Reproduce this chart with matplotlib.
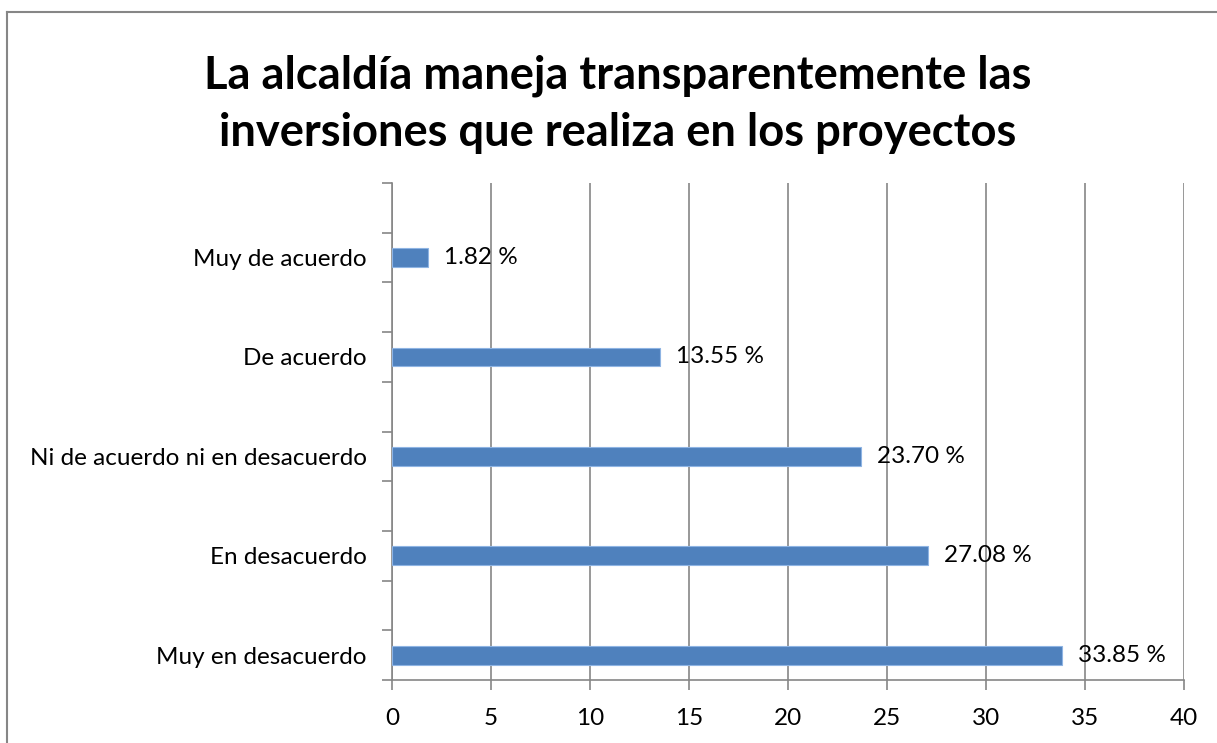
import numpy as np
import matplotlib
matplotlib.use('Agg')
import matplotlib.pyplot as plt
from matplotlib.lines import Line2D

# Data (bottom to top)
categories = ['Muy en desacuerdo', 'En desacuerdo', 'Ni de acuerdo ni en desacuerdo',
              'De acuerdo', 'Muy de acuerdo']
values = [33.85, 27.08, 23.70, 13.55, 1.82]
labels = ['33.85 %', '27.08 %', '23.70 %', '13.55 %', '1.82 %']
title = 'La alcaldía maneja transparentemente las\ninversiones que realiza en los proyectos'

plt.rcParams['font.family'] = ['Lato', 'DejaVu Sans']

fig = plt.figure(figsize=(12.17, 7.43), dpi=100)
W, H = 1217, 743

# outer chart border (right/bottom edges fall outside the image)
fig.add_artist(Line2D([7 / W, 7 / W], [0, 1 - 12 / H], color='#868686', lw=1.5))
fig.add_artist(Line2D([7 / W, 1], [1 - 12 / H, 1 - 12 / H], color='#868686', lw=1.5))

ax = fig.add_axes([392 / W, 1 - 680 / H, (1184 - 392) / W, (680 - 183) / H])

y = np.arange(len(categories))
ax.barh(y, values, height=0.19, color='#4F81BD', edgecolor='#8EB4E3', linewidth=0.8, zorder=3)

for yi, v, lab in zip(y, values, labels):
    ax.annotate(lab, (v, yi), xytext=(11.5, 0), textcoords='offset points',
                va='center', ha='left', fontsize=17.5, color='black', zorder=4)

ax.set_xlim(0, 40)
ax.set_ylim(-0.25, 4.75)
ax.set_xticks(np.arange(0, 41, 5))
ax.tick_params(axis='x', labelsize=17.5, length=7, color='#868686', width=1.2, pad=13)

# category labels at bar centres, tick marks every half band
ax.set_yticks(y)
ax.set_yticklabels(categories, fontsize=17.5)
ax.tick_params(axis='y', which='major', length=0, pad=18)
ax.set_yticks(np.arange(-0.25, 4.76, 0.5), minor=True)
ax.tick_params(axis='y', which='minor', length=7, color='#868686', width=1.2)

ax.grid(axis='x', color='#868686', linewidth=1.2, zorder=0)
for side in ['top', 'right']:
    ax.spines[side].set_visible(False)
for side in ['left', 'bottom']:
    ax.spines[side].set_color('#868686')
    ax.spines[side].set_linewidth(1.2)

fig.text(0.5 * (205 + 1030) / W, 1 - 104 / H, title, ha='center', va='center',
         fontsize=32.6, fontweight='bold', linespacing=1.45)

fig.savefig('out.png', dpi=100, facecolor='white')
